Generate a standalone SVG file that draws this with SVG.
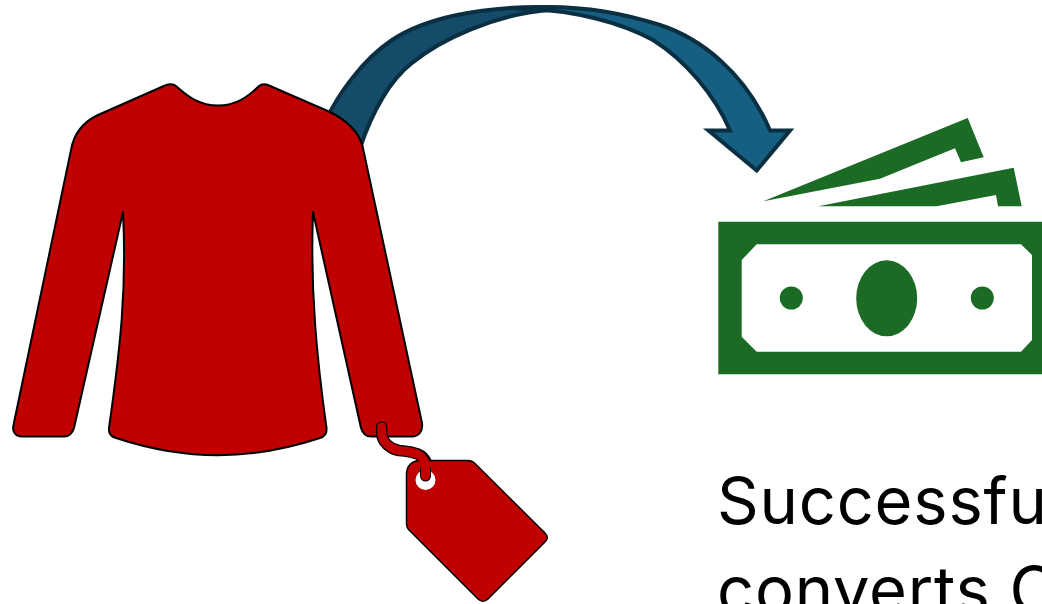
<svg xmlns="http://www.w3.org/2000/svg" width="1042" height="604" viewBox="0 0 1042 604">
<style>
.ar{stroke:#0b2f42;stroke-width:4;stroke-linejoin:miter;stroke-miterlimit:10}
.red{fill:#c00000}
.gr{fill:#1b6b25}
.t{font-family:"Inter","Liberation Sans",sans-serif;font-size:65px;letter-spacing:.8px;fill:#000}
</style>
<rect width="1042" height="604" fill="#fff"/>
<g id="connectors">
<path class="ar" fill="#134b68" d="M327 118C338 95 362 60 392 40C425 18 480 7 540 7L550 10C495 14 440 40 412 63C390 80 372 112 360 148Z"/>
<path class="ar" fill="#156082" d="M540 7C580 6 620 12 660 25C700 38 745 72 770 130.500L790 130.500L756.700 170.500L708.500 130.500L730 130.500C715 95 685 60 653 40C620 22 575 11 530 9Z"/>
</g>
<g id="shirt">
<path class="red" stroke="#000" stroke-width="2" stroke-linejoin="round" d="M165 85.500C170 83.500 173 83.500 176 86C188 97 200 105.500 218 105.500C236 105.500 248 97 259 86C262 83.500 265 83.500 269 85.500L330 112C346 120 358 130 362.500 146L422 423C423 431 419 436.500 412 436.500L371 436.500C366 436.500 362.500 433 361 428L313 212C310 290 317 360 326.500 428C327 433 325 436.500 320 438C250 461 186 461 116 438C111 436.500 108.500 433 109 428C120 350 127 290 123 212L74 428C72.500 433 69 436.500 64 436.500L22 436.500C15 436.500 12 431 13.500 425L71 150C74 133 83 122 98 115Z"/>
</g>
<g id="tag">
<path fill="none" stroke="#000" stroke-width="11.500" stroke-linecap="round" d="M381.700 427L381.700 433C382 442 390 449 399 450.500C415 452 423 454 426.500 463"/>
<path class="red" stroke="#000" stroke-width="1.500" stroke-linejoin="round" d="M420 460.500L468 460.500C471 460.500 473 461.500 475 463.500L545 533C548 536 548 539 545 542L488 599C485 602 481 602 478 599L409 530C407 528 406.500 526 406.500 523L406.500 474C406.500 466 412 460.500 420 460.500Z"/>
<circle cx="425.500" cy="480" r="10" fill="#fff"/>
<path fill="none" stroke="#000" stroke-width="11" stroke-linecap="round" d="M425.500 470L425.500 476"/>
<path fill="none" stroke="#c00000" stroke-width="9" stroke-linecap="round" d="M381.700 427L381.700 433C382 442 390 449 399 450.500C415 452 425.500 454 425.500 468L425.500 476"/>
</g>
<g id="money">
<path class="gr" fill-rule="evenodd" d="M718.300 221.700H1042V374.300H718.300ZM741.700 260V336.700L756.700 351.700H1021L1032 340V255L1021 244.300H756.700Z"/>
<ellipse class="gr" cx="886.700" cy="298.300" rx="30.500" ry="38"/>
<circle class="gr" cx="791.300" cy="298" r="11.500"/>
<circle class="gr" cx="982.300" cy="298" r="11.500"/>
<path class="gr" d="M763.300 201.300L967.700 118L983.700 157.300L961 162.300L955 148.300L880 178.700Z"/>
<path class="gr" d="M818.300 206.300L1013.700 167.700L1021.700 206.300H998L996 195L936.700 206.300Z"/>
</g>
<g id="caption">
<text class="t" x="717" y="524">Successfu</text>
<text class="t" x="717" y="613">converts C</text>
</g>
</svg>
